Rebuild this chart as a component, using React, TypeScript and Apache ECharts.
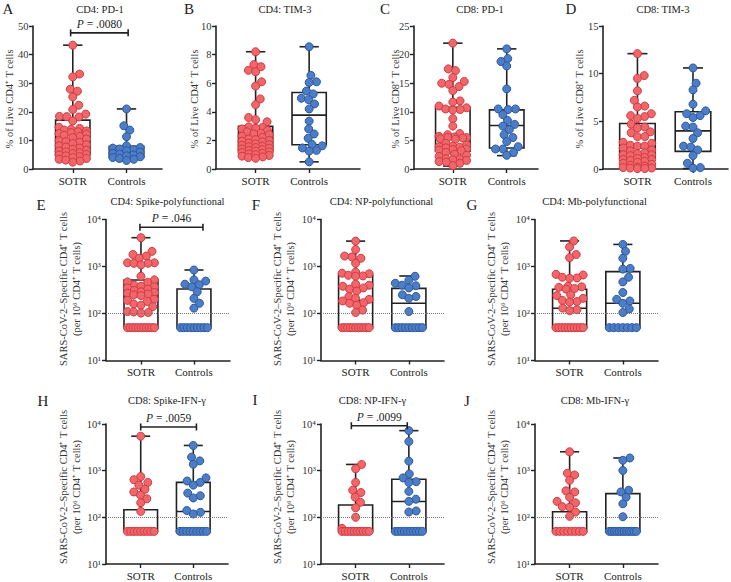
import React, { useEffect, useRef } from 'react';
import * as echarts from 'echarts';

// ---------- data ----------
const categories = ['SOTR', 'Controls'];
const panelLetters = ['A', 'B', 'C', 'D', 'E', 'F', 'G', 'H', 'I', 'J'];
const panelTitles = [
  'CD4: PD-1', 'CD4: TIM-3', 'CD8: PD-1', 'CD8: TIM-3',
  'CD4: Spike-polyfunctional', 'CD4: NP-polyfunctional', 'CD4: Mb-polyfunctional',
  'CD8: Spike-IFN-γ', 'CD8: NP-IFN-γ', 'CD8: Mb-IFN-γ',
];
const yTitleCD4 = '% of Live CD4⁺ T cells';
const yTitleCD8 = '% of Live CD8⁺ T cells';
const yTitleSpecific = 'SARS-CoV-2–Specific CD4⁺ T cells\n(per 10⁶ CD4⁺ T cells)';

const linearMax = [50, 10, 25, 15];
const linearStep = [10, 2, 5, 5];
const logTicks = [10, 100, 1000, 10000];
const logTickLabels = ['10¹', '10²', '10³', '10⁴'];
const detectionLimit = 100;

// box stats: [min, Q1, median, Q3, max]
const aSotr = [43.3, 33.2, 32.2, 27.9, 27.2, 25.2, 22.3, 20.8, 19.2, 18.4, 18.3, 18.2, 16.8, 14.6, 14.2, 13.9, 13.6, 13.3, 13.0, 12.7, 12.4, 12.2, 11.8, 11.4, 11.0, 10.5, 9.9, 9.6, 9.3, 8.9, 8.5, 8.1, 7.7, 7.3, 6.9, 6.6, 6.3, 6.0, 5.7, 5.4, 5.1, 4.9, 4.6, 4.3, 4.0, 3.7, 3.4, 3.1, 2.8, 2.4];
const aCtrl = [21.0, 15.1, 13.6, 11.3, 8.1, 7.5, 7.3, 7.0, 6.8, 6.4, 5.9, 5.5, 5.2, 4.9, 4.6, 4.3, 4.0, 3.7, 3.4, 3.0];
const aSotrBox = [2.4, 4.9, 9.5, 17.1, 43.3];
const aCtrlBox = [2.8, 4.1, 5.6, 7.9, 21.0];

const bSotr = [8.2, 7.3, 7.15, 6.9, 6.8, 6.1, 5.8, 4.9, 4.5, 3.6, 3.45, 3.3, 2.95, 2.9, 2.85, 2.8, 2.7, 2.6, 2.5, 2.45, 2.4, 2.3, 2.2, 2.1, 2.05, 2.0, 1.95, 1.9, 1.8, 1.75, 1.7, 1.65, 1.6, 1.55, 1.5, 1.45, 1.4, 1.35, 1.3, 1.25, 1.2, 1.15, 1.1, 1.05, 1.0, 0.95, 0.9, 0.85, 0.8, 0.75];
const bCtrl = [8.55, 6.55, 6.1, 6.05, 5.45, 5.25, 4.95, 4.85, 4.55, 4.2, 3.35, 2.8, 2.45, 2.15, 1.72, 1.62, 1.47, 1.3, 1.25, 0.5];
const bSotrBox = [0.75, 1.28, 1.63, 2.98, 8.2];
const bCtrlBox = [0.5, 1.7, 3.77, 5.35, 8.55];

const cSotr = [22.0, 17.5, 17.2, 16.0, 15.3, 15.0, 14.8, 14.4, 13.7, 11.9, 11.7, 11.0, 10.7, 10.5, 10.4, 10.3, 8.8, 7.5, 6.2, 6.0, 5.7, 5.6, 5.5, 5.5, 5.4, 5.3, 5.2, 4.5, 4.2, 4.0, 3.9, 3.8, 3.7, 3.5, 3.4, 3.3, 3.2, 2.9, 2.6, 2.4, 2.2, 1.8, 1.7, 1.6, 1.5, 1.3, 1.2, 1.0, 0.6];
const cCtrl = [21.0, 19.3, 18.8, 18.0, 14.0, 10.5, 10.5, 10.4, 9.5, 8.5, 7.8, 7.5, 6.9, 6.0, 5.5, 4.8, 3.9, 3.5, 3.5, 2.9, 2.4];
const cSotrBox = [0.5, 3.1, 5.26, 10.8, 22.0];
const cCtrlBox = [2.34, 3.68, 7.6, 10.34, 21.0];

const dSotr = [12.1, 9.8, 9.5, 8.2, 7.2, 6.6, 6.5, 5.8, 5.6, 5.5, 5.3, 4.7, 4.4, 4.3, 3.9, 3.8, 3.4, 3.4, 2.8, 2.7, 2.5, 2.4, 2.4, 2.2, 2.0, 1.9, 1.7, 1.6, 1.5, 1.5, 1.4, 1.2, 1.1, 1.0, 1.0, 0.9, 0.8, 0.7, 0.6, 0.5, 0.4, 0.3, 0.2, 0.15, 0.1, 0.1, 0.05, 0.05];
const dCtrl = [10.6, 9.0, 8.3, 6.8, 6.1, 5.8, 5.6, 5.4, 4.5, 4.4, 3.8, 3.2, 2.4, 2.3, 2.0, 1.4, 0.6, 0.15, 0.1];
const dSotrBox = [0.0, 1.12, 2.2, 4.78, 12.1];
const dCtrlBox = [0.05, 1.85, 4.0, 6.0, 10.6];

const eSotr = [4100, 2100, 1800, 1670, 1500, 1200, 1200, 1170, 1170, 1080, 620, 520, 470, 460, 400, 380, 370, 350, 330, 310, 290, 280, 270, 260, 250, 240, 200, 190, 180, 160, 150, 140, 110, 108, 105, 102, 50, 50, 50, 50, 50, 50, 50, 50, 50, 50, 50];
const eCtrl = [842, 520, 490, 420, 410, 370, 290, 210, 165, 130, 50, 50, 50, 50, 50, 50, 50, 50, 50];
const eSotrBox = [50, 50, 248, 516, 4100];
const eCtrlBox = [50, 50, 50, 331, 842];

const fSotr = [3470, 2300, 1670, 1600, 1500, 1170, 760, 720, 700, 650, 630, 620, 420, 400, 380, 350, 330, 300, 230, 210, 200, 185, 170, 165, 150, 118, 105, 50, 50, 50, 50, 50, 50, 50, 50, 50, 50, 50];
const fCtrl = [620, 510, 440, 400, 390, 350, 250, 230, 210, 110, 50, 50, 50, 50, 50, 50, 50, 50, 50];
const fSotrBox = [50, 50, 188, 659, 3470];
const fCtrlBox = [50, 50, 165, 343, 628];

const gSotr = [3500, 2600, 1800, 1540, 680, 660, 590, 570, 560, 380, 370, 360, 340, 330, 250, 240, 210, 190, 180, 175, 130, 120, 115, 50, 50, 50, 50, 50, 50, 50, 50, 50, 50];
const gCtrl = [2950, 2100, 1500, 910, 880, 590, 470, 280, 200, 185, 165, 125, 105, 50, 50, 50, 50, 50, 50, 50];
const gSotrBox = [50, 50, 129, 327, 3500];
const gCtrlBox = [50, 50, 165, 777, 2950];

const hSotr = [5480, 750, 640, 560, 490, 400, 350, 300, 250, 205, 134, 50, 50, 50, 50, 50, 50, 50, 50, 50];
const hCtrl = [3470, 1950, 1620, 1370, 700, 600, 560, 490, 330, 290, 260, 140, 128, 118, 50, 50, 50, 50, 50, 50, 50, 50, 50];
const hSotrBox = [50, 50, 50, 145, 5480];
const hCtrlBox = [50, 50, 133, 560, 3470];

const iSotr = [1360, 1100, 560, 380, 340, 270, 210, 160, 100, 58, 50, 50, 50, 50, 50, 50, 50, 50, 50, 50];
const iCtrl = [7200, 4200, 1600, 850, 700, 580, 560, 360, 245, 220, 137, 130, 50, 50, 50, 50, 50, 50, 50, 50, 50, 50];
const iSotrBox = [50, 50, 50, 184, 1360];
const iCtrlBox = [50, 50, 218, 653, 7200];

const jSotr = [2540, 880, 810, 620, 370, 350, 270, 220, 205, 170, 165, 130, 105, 50, 50, 50, 50, 50, 50, 50, 50];
const jCtrl = [1870, 1670, 1010, 380, 350, 270, 195, 103, 50, 50, 50, 50, 50, 50, 50, 50, 50, 50, 50, 50];
const jSotrBox = [50, 50, 50, 132, 2540];
const jCtrlBox = [50, 50, 50, 322, 1870];

// significance brackets
const pPanels = [0, 4, 7, 8];
const pTexts = ['.0080', '.046', '.0059', '.0099'];
const pValuesY = [47.6, 6820, 8630, 9190];

// ---------- layout ----------
const FONT = "'Liberation Serif', 'Times New Roman', serif";
const INK = '#222222';
const RED = { fill: '#F0676B', stroke: '#D23A40' };
const BLUE = { fill: '#4C7DC6', stroke: '#2B5A9F' };
const R = 4;
const BOX_HALF = 0.32;
const CAP_HALF = 0.18;

const gridBoxes = [
  [33, 26, 129, 143], [216, 26, 144, 143], [414, 26, 124, 143], [603, 26, 125, 143],
  [106, 219.5, 124, 141], [321, 219.5, 123, 141], [535, 219.5, 123, 141],
  [106, 424, 122, 140], [321, 424, 123, 140], [535, 424, 123, 140],
];
const xRanges = [
  [-0.74, 1.66], [-0.74, 1.95], [-0.72, 1.58], [-0.62, 1.63],
  [-0.66, 1.68], [-0.65, 1.66], [-0.65, 1.66],
  [-0.66, 1.66], [-0.65, 1.66], [-0.65, 1.66],
];
const titlePos = [
  [100, 9], [285, 9], [480, 9], [663, 9],
  [167.5, 201.5], [381.5, 201.5], [594.5, 201.5],
  [167, 400], [372.5, 400], [595, 400],
];
const letterPos = [
  [8, 9], [189, 9], [385, 9], [571, 9],
  [41, 205], [256, 205], [472, 205],
  [43, 401], [255, 400], [467, 401],
];
const yNamePos = [
  [9.5, 99], [194, 99], [395, 99], [579, 99],
  [69.5, 289], [283.5, 289], [497.5, 289],
  [69.5, 487], [283.5, 487], [497.5, 487],
];
const pXRanges = [[-0.04, 1.03], [-0.02, 1.17], [0, 1.06], [-0.08, 0.97]];

const sotrData = [aSotr, bSotr, cSotr, dSotr, eSotr, fSotr, gSotr, hSotr, iSotr, jSotr];
const ctrlData = [aCtrl, bCtrl, cCtrl, dCtrl, eCtrl, fCtrl, gCtrl, hCtrl, iCtrl, jCtrl];
const sotrBoxes = [aSotrBox, bSotrBox, cSotrBox, dSotrBox, eSotrBox, fSotrBox, gSotrBox, hSotrBox, iSotrBox, jSotrBox];
const ctrlBoxes = [aCtrlBox, bCtrlBox, cCtrlBox, dCtrlBox, eCtrlBox, fCtrlBox, gCtrlBox, hCtrlBox, iCtrlBox, jCtrlBox];

// ---------- beeswarm in pixel space ----------
function swarm(ys: number[], vals: number[], cx: number, r: number, maxHalf: number): number[] {
  const n = ys.length;
  const xs: number[] = new Array(n).fill(NaN);
  const d = 2 * r * 0.92;
  const placed: number[] = [];
  const groups = new Map<number, number[]>();
  vals.forEach((v, i) => {
    const g = groups.get(v) || [];
    g.push(i);
    groups.set(v, g);
  });
  groups.forEach((idx) => {
    if (idx.length >= 5) {
      const m = idx.length;
      const s = Math.min(d, (2 * maxHalf) / (m - 1));
      idx.forEach((i, j) => {
        xs[i] = cx + (j - (m - 1) / 2) * s;
        placed.push(i);
      });
    }
  });
  const rest = ys.map((_, i) => i).filter((i) => isNaN(xs[i])).sort((a, b) => ys[b] - ys[a]);
  for (const i of rest) {
    const y = ys[i];
    const cands = [cx];
    for (const p of placed) {
      const dy = ys[p] - y;
      if (Math.abs(dy) < d) {
        const dx = Math.sqrt(d * d - dy * dy);
        cands.push(xs[p] + dx, xs[p] - dx);
      }
    }
    let best = NaN;
    let bestD = Infinity;
    for (const c of cands) {
      if (Math.abs(c - cx) > maxHalf + 1e-6) continue;
      const ok = placed.every((p) => Math.hypot(xs[p] - c, ys[p] - y) >= d - 1e-6);
      if (ok && Math.abs(c - cx) < bestD) {
        bestD = Math.abs(c - cx);
        best = c;
      }
    }
    if (isNaN(best)) {
      let bestScore = Infinity;
      for (let k = -8; k <= 8; k++) {
        const c = cx + (k * maxHalf) / 8;
        let score = 0;
        for (const p of placed) {
          const dist = Math.hypot(xs[p] - c, ys[p] - y);
          if (dist < d) score += d - dist;
        }
        score += Math.abs(k) * 0.01;
        if (score < bestScore) {
          bestScore = score;
          best = c;
        }
      }
    }
    xs[i] = best;
    placed.push(i);
  }
  return xs;
}

function makePointsRender(values: number[], cat: number, color: { fill: string; stroke: string }) {
  return (params: any, api: any) => {
    if (params.dataIndex !== 0) return null;
    const pts = values.map((v) => api.coord([cat, v]));
    const cx = pts[0][0];
    const xr = api.coord([cat + BOX_HALF, values[0]])[0];
    const maxHalf = xr - cx - R + 0.5;
    const xs = swarm(pts.map((p: number[]) => p[1]), values, cx, R, maxHalf);
    return {
      type: 'group',
      children: pts.map((p: number[], i: number) => ({
        type: 'circle',
        shape: { cx: xs[i], cy: p[1], r: R },
        style: { fill: color.fill, stroke: color.stroke, lineWidth: 1 },
      })),
    };
  };
}

function renderBox(params: any, api: any) {
  const cat = api.value(0);
  const mn = api.value(1), q1 = api.value(2), md = api.value(3), q3 = api.value(4), mx = api.value(5);
  const X = (dx: number) => api.coord([cat + dx, md])[0];
  const Y = (v: number) => api.coord([cat, v])[1];
  const st = { stroke: INK, lineWidth: 1.6, fill: 'none' };
  const xl = X(-BOX_HALF), xr = X(BOX_HALF), cx = X(0), cl = X(-CAP_HALF), cr = X(CAP_HALF);
  return {
    type: 'group',
    children: [
      { type: 'rect', shape: { x: xl, y: Y(q3), width: xr - xl, height: Y(q1) - Y(q3) }, style: st },
      { type: 'line', shape: { x1: xl, y1: Y(md), x2: xr, y2: Y(md) }, style: st },
      { type: 'line', shape: { x1: cx, y1: Y(q3), x2: cx, y2: Y(mx) }, style: st },
      { type: 'line', shape: { x1: cx, y1: Y(q1), x2: cx, y2: Y(mn) }, style: st },
      { type: 'line', shape: { x1: cl, y1: Y(mx), x2: cr, y2: Y(mx) }, style: st },
      { type: 'line', shape: { x1: cl, y1: Y(mn), x2: cr, y2: Y(mn) }, style: st },
    ],
  };
}

function makeBracketRender(pText: string) {
  return (params: any, api: any) => {
    const a = api.coord([api.value(0), api.value(2)]);
    const b = api.coord([api.value(1), api.value(2)]);
    const st = { stroke: INK, lineWidth: 1.6 };
    return {
      type: 'group',
      children: [
        { type: 'line', shape: { x1: a[0], y1: a[1], x2: b[0], y2: b[1] }, style: st },
        { type: 'line', shape: { x1: a[0], y1: a[1] - 3.5, x2: a[0], y2: a[1] + 3.5 }, style: st },
        { type: 'line', shape: { x1: b[0], y1: b[1] - 3.5, x2: b[0], y2: b[1] + 3.5 }, style: st },
        {
          type: 'text',
          x: (a[0] + b[0]) / 2,
          y: a[1] - 9,
          style: {
            text: '{i|P} = ' + pText,
            textAlign: 'center',
            textVerticalAlign: 'middle',
            font: `11.5px ${FONT}`,
            fill: INK,
            rich: { i: { fontStyle: 'italic', fontSize: 11.5, fontFamily: FONT, fill: INK } },
          },
        },
      ],
    };
  };
}

function buildOption() {
  const grid: any[] = [];
  const xAxis: any[] = [];
  const yAxis: any[] = [];
  const series: any[] = [];
  const graphic: any[] = [];

  for (let i = 0; i < 10; i++) {
    const isLog = i >= 4;
    const g = gridBoxes[i];
    grid.push({ left: g[0], top: g[1], width: g[2], height: g[3] });
    xAxis.push({
      type: 'value',
      gridIndex: i,
      min: xRanges[i][0],
      max: xRanges[i][1],
      axisLine: { show: true, onZero: false, lineStyle: { color: INK, width: 1.6 } },
      axisTick: { show: true, customValues: [0, 1], length: 4, lineStyle: { color: INK, width: 1.4 } },
      axisLabel: {
        customValues: [0, 1],
        formatter: (v: number) => categories[Math.round(v)] ?? '',
        margin: 6,
        fontSize: 11,
        color: INK,
        fontFamily: FONT,
      },
      splitLine: { show: false },
    });
    const common = {
      gridIndex: i,
      axisLine: { show: true, onZero: false, lineStyle: { color: INK, width: 1.6 } },
      axisTick: { show: true, length: 4, lineStyle: { color: INK, width: 1.4 } },
      splitLine: { show: false },
    };
    if (isLog) {
      yAxis.push({
        ...common,
        type: 'log',
        logBase: 10,
        min: logTicks[0],
        max: logTicks[logTicks.length - 1],
        minorTick: { show: false },
        axisLabel: {
          formatter: (v: number) => logTickLabels[logTicks.indexOf(Math.round(v))] ?? '',
          margin: 5,
          fontSize: 10.5,
          color: '#333',
          fontFamily: FONT,
        },
      });
    } else {
      yAxis.push({
        ...common,
        type: 'value',
        min: 0,
        max: linearMax[i],
        interval: linearStep[i],
        axisLabel: { margin: 4.5, fontSize: 10.5, color: '#333', fontFamily: FONT },
      });
    }

    series.push({
      type: 'custom',
      xAxisIndex: i,
      yAxisIndex: i,
      silent: true,
      z: 2,
      data: [[0, ...sotrBoxes[i]], [1, ...ctrlBoxes[i]]],
      encode: { x: 0, y: [1, 2, 3, 4, 5] },
      renderItem: renderBox,
      markLine: isLog
        ? {
            silent: true,
            symbol: 'none',
            label: { show: false },
            lineStyle: { type: 'dotted', color: '#777', width: 1 },
            data: [{ yAxis: detectionLimit }],
          }
        : undefined,
    });
    series.push({
      type: 'custom',
      xAxisIndex: i,
      yAxisIndex: i,
      silent: true,
      z: 3,
      data: sotrData[i].map((v) => [0, v]),
      encode: { x: 0, y: 1 },
      renderItem: makePointsRender(sotrData[i], 0, RED),
    });
    series.push({
      type: 'custom',
      xAxisIndex: i,
      yAxisIndex: i,
      silent: true,
      z: 3,
      data: ctrlData[i].map((v) => [1, v]),
      encode: { x: 0, y: 1 },
      renderItem: makePointsRender(ctrlData[i], 1, BLUE),
    });

    graphic.push({
      type: 'text', x: letterPos[i][0], y: letterPos[i][1],
      style: { text: panelLetters[i], font: `15px ${FONT}`, fill: INK, textAlign: 'center', textVerticalAlign: 'middle' },
    });
    graphic.push({
      type: 'text', x: titlePos[i][0], y: titlePos[i][1],
      style: { text: panelTitles[i], font: `10.5px ${FONT}`, fill: INK, textAlign: 'center', textVerticalAlign: 'middle' },
    });
    const yName = i < 4 ? (i < 2 ? yTitleCD4 : yTitleCD8) : yTitleSpecific;
    graphic.push({
      type: 'text', x: yNamePos[i][0], y: yNamePos[i][1], rotation: Math.PI / 2,
      style: { text: yName, font: `10.5px ${FONT}`, fill: '#333', textAlign: 'center', textVerticalAlign: 'middle', lineHeight: 13 },
    });
  }

  pPanels.forEach((pi, k) => {
    series.push({
      type: 'custom',
      xAxisIndex: pi,
      yAxisIndex: pi,
      silent: true,
      z: 4,
      clip: false,
      data: [[pXRanges[k][0], pXRanges[k][1], pValuesY[k]]],
      encode: { x: [0, 1], y: 2 },
      renderItem: makeBracketRender(pTexts[k]),
    });
  });

  return {
    animation: false,
    backgroundColor: '#ffffff',
    textStyle: { fontFamily: FONT },
    grid,
    xAxis,
    yAxis,
    series,
    graphic: { elements: graphic },
  };
}

export default function App() {
  const ref = useRef<HTMLDivElement>(null);
  useEffect(() => {
    if (!ref.current) return;
    const chart = echarts.init(ref.current, undefined, { renderer: 'svg' });
    chart.setOption(buildOption());
    return () => chart.dispose();
  }, []);
  return (
    <div
      ref={ref}
      style={{ position: 'fixed', left: 0, top: 0, width: 731, height: 582, background: '#fff' }}
    />
  );
}
